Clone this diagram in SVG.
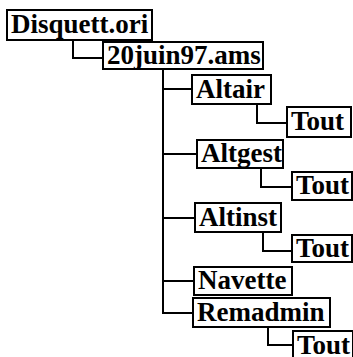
<svg xmlns="http://www.w3.org/2000/svg" width="353" height="357" viewBox="0 0 353 357">
<style>
.box rect{fill:#fff;stroke:#000;stroke-width:2}
.box text{font-family:"Liberation Serif","Times New Roman",serif;font-weight:bold;font-size:27px;fill:#000}
#connectors path{fill:none;stroke:#000;stroke-width:2}
</style>
<rect width="353" height="357" fill="#fff"/>
<g id="connectors">
<path d="M73 40V58H103"/>
<path d="M163 69V313H193"/>
<path d="M163 89H192"/>
<path d="M163 154H197"/>
<path d="M163 218H195"/>
<path d="M163 281H194"/>
<path d="M257 104V123H287"/>
<path d="M261 168V187H292"/>
<path d="M263 232V251H292"/>
<path d="M268 327V345H293"/>
</g>
<g id="n-disquett" class="box"><rect x="7" y="10" width="145" height="30"/><text x="11" y="33">Disquett.ori</text></g>
<g id="n-20juin" class="box"><rect x="103" y="42" width="160" height="27"/><text x="107" y="64">20juin97.ams</text></g>
<g id="n-altair" class="box"><rect x="192" y="75" width="79" height="29"/><text x="196" y="98">Altair</text></g>
<g id="n-tout1" class="box"><rect x="287" y="107" width="64" height="30"/><text x="291" y="130">Tout</text></g>
<g id="n-altgest" class="box"><rect x="197" y="140" width="86" height="28"/><text x="201" y="162">Altgest</text></g>
<g id="n-tout2" class="box"><rect x="292" y="172" width="60" height="28"/><text x="296" y="194">Tout</text></g>
<g id="n-altinst" class="box"><rect x="195" y="203" width="86" height="29"/><text x="199" y="226">Altinst</text></g>
<g id="n-tout3" class="box"><rect x="292" y="235" width="60" height="27"/><text x="296" y="257">Tout</text></g>
<g id="n-navette" class="box"><rect x="194" y="267" width="98" height="28"/><text x="198" y="289">Navette</text></g>
<g id="n-remadmin" class="box"><rect x="193" y="298" width="137" height="29"/><text x="197" y="321">Remadmin</text></g>
<g id="n-tout4" class="box"><rect x="293" y="331" width="60" height="30"/><text x="297" y="354">Tout</text></g>
</svg>
